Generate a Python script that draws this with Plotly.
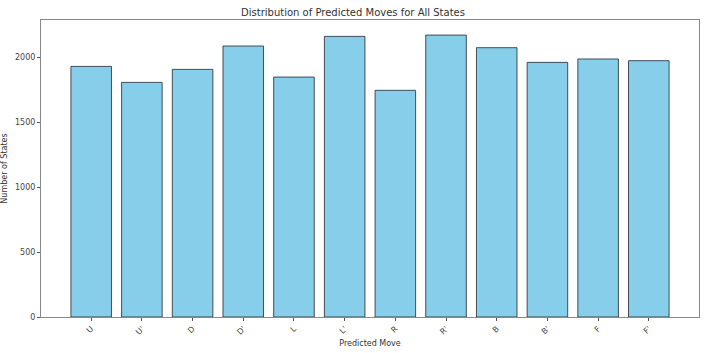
import plotly.graph_objects as go

moves = ["U", "U'", "D", "D'", "L", "L'", "R", "R'", "B", "B'", "F", "F'"]
counts = [1928, 1805, 1905, 2085, 1846, 2159, 1744, 2169, 2072, 1959, 1985, 1972]
y_ticks = [0, 500, 1000, 1500, 2000]

fig = go.Figure()
fig.add_trace(go.Bar(
    x=list(range(len(moves))),
    y=counts,
    width=0.8,
    marker=dict(color="#87CEEB", line=dict(color="rgba(40,50,60,0.85)", width=1)),
))

font = dict(family="DejaVu Sans", color="#333", size=8)
fig.update_layout(
    width=706, height=353,
    margin=dict(l=41, r=7, t=20, b=36, autoexpand=False),
    plot_bgcolor="white", paper_bgcolor="white",
    showlegend=False,
    title=dict(text="Distribution of Predicted Moves for All States",
               x=0.5, xanchor="center", y=1 - 12/353, yanchor="middle",
               font=dict(family="DejaVu Sans", size=10, color="#333")),
    font=font,
)
fig.update_xaxes(
    range=[-0.99, 11.99],
    tickmode="array", tickvals=list(range(len(moves))), ticktext=moves,
    tickangle=-45, ticks="outside", ticklen=3, tickcolor="#555",
    showgrid=False, zeroline=False,
    showline=True, linecolor="#888", linewidth=1, mirror=True,
    title=dict(text="Predicted Move", font=dict(size=8, color="#333"), standoff=4),
    tickfont=dict(size=8, color="#444"),
)
fig.update_yaxes(
    range=[0, 2285],
    tickmode="array", tickvals=y_ticks,
    ticks="outside", ticklen=3, tickcolor="#555",
    showgrid=False, zeroline=False,
    showline=True, linecolor="#888", linewidth=1, mirror=True,
    title=dict(text="Number of States", font=dict(size=8, color="#333"), standoff=6),
    tickfont=dict(size=8, color="#444"),
)

fig.write_html("out.html")
